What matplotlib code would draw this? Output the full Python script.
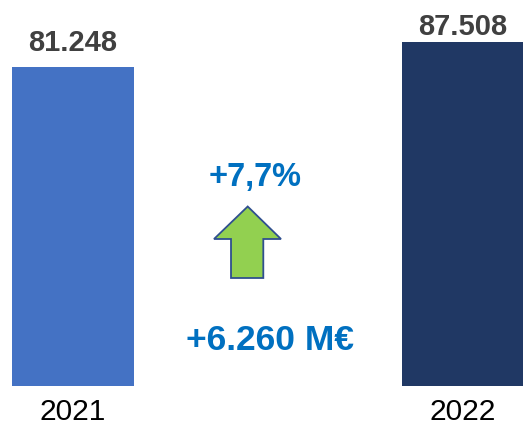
import matplotlib
matplotlib.use("Agg")
import matplotlib.pyplot as plt
from matplotlib.patches import Polygon
from matplotlib.transforms import blended_transform_factory

years = ["2021", "2022"]
values = [81.248, 87.508]
value_labels = ["81.248", "87.508"]
pct_label = "+7,7%"
diff_label = "+6.260 M€"

bar_colors = ["#4472C4", "#203864"]
W, H, DPI = 523, 427, 100
plt.rcParams['font.family'] = ['Liberation Sans', 'DejaVu Sans']

fig = plt.figure(figsize=(W / DPI, H / DPI), dpi=DPI)
base_px = 40
ax = fig.add_axes([0, base_px / H, 1, (H - base_px) / H])
ax.bar(range(len(years)), values, width=122 / 390, color=bar_colors)
ax.set_xlim(-73 / 390, (523 - 73) / 390)
ax.set_ylim(0, 98.45)
ax.axis("off")

trans = blended_transform_factory(ax.transData, fig.transFigure)
for i, y in enumerate(years):
    ax.text(i, 1 - 420.5 / H, y, transform=trans, ha="center", va="baseline",
            fontsize=21.5, color="#000000")

offsets = [12.2, 5.8]
for i, (v, lab) in enumerate(zip(values, value_labels)):
    ax.annotate(lab, (i, v), xytext=(0, offsets[i]), textcoords="offset points",
                ha="center", va="baseline", fontsize=21, fontweight="bold",
                color="#404040")

# central annotation
fig.text(255.5 / W, 1 - 186 / H, pct_label, ha="center", va="baseline",
         fontsize=23.5, fontweight="bold", color="#0070C0")
fig.text(269.5 / W, 1 - 350 / H, diff_label, ha="center", va="baseline",
         fontsize=25.5, fontweight="bold", color="#0070C0")

arrow_px = [(247.7, 207.5), (281, 240), (263.3, 240), (263.3, 279),
            (231, 279), (231, 240), (214, 240)]
arrow = Polygon([(x / W, 1 - y / H) for x, y in arrow_px], closed=True,
                transform=fig.transFigure, facecolor="#92D050",
                edgecolor="#2F4F8F", linewidth=1.3)
fig.patches.append(arrow)

fig.savefig("out.png", dpi=DPI)
